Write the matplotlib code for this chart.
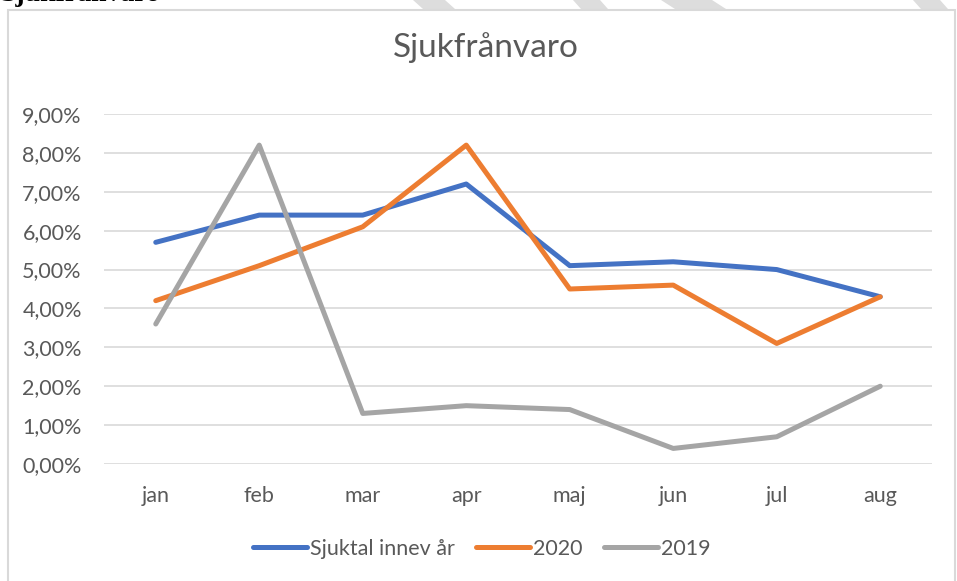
import matplotlib
matplotlib.use('Agg')
import matplotlib.pyplot as plt
import matplotlib.patches as mpatches
from matplotlib.ticker import FuncFormatter

plt.rcParams['font.family'] = ['Lato', 'DejaVu Sans']

# === Data ===
months = ['jan', 'feb', 'mar', 'apr', 'maj', 'jun', 'jul', 'aug']
sjuktal = [0.057, 0.064, 0.064, 0.072, 0.051, 0.052, 0.050, 0.043]
y2020 = [0.042, 0.051, 0.061, 0.082, 0.045, 0.046, 0.031, 0.043]
y2019 = [0.036, 0.082, 0.013, 0.015, 0.014, 0.004, 0.007, 0.020]
series_names = ['Sjuktal innev år', '2020', '2019']
yticks = [i / 100 for i in range(10)]

COLORS = ['#4472C4', '#ED7D31', '#A5A5A5']
TXT = '#595959'
FS = 15.5

fig = plt.figure(figsize=(9.57, 5.81), dpi=100)
W, H = 957, 581

# watermark stripes peeking above the chart box
for x0, x1, s in [(413, 445, 10), (573, 600, 8), (661, 712, 14), (913, 940, 8)]:
    poly = mpatches.Polygon([(x0 / W, 1), (x1 / W, 1), ((x1 + s) / W, 1 - 9 / H),
                             ((x0 + s) / W, 1 - 9 / H)],
                            closed=True, transform=fig.transFigure,
                            facecolor='#DDDDDD', edgecolor='none', zorder=0)
    fig.patches.append(poly)

# cut-off heading at the very top
fig.text(0.0, 1 - 1 / H, 'Sjukfrånvaro', fontsize=20, fontweight='bold',
         family=['Liberation Serif', 'DejaVu Serif'], color='black',
         va='baseline', ha='left', zorder=1)

# chart frame
frame = mpatches.Rectangle((8 / W, -0.01), (955 - 8) / W, 1 - 10 / H + 0.01,
                           transform=fig.transFigure, facecolor='white',
                           edgecolor='#D9D9D9', linewidth=1.5, zorder=2)
fig.patches.append(frame)

ax = fig.add_axes([104 / W, 1 - 464 / H, (932 - 104) / W, (464 - 114) / H])
ax.set_zorder(3)
ax.patch.set_alpha(0)

x = range(len(months))
for vals, name, c in zip([sjuktal, y2020, y2019], series_names, COLORS):
    ax.plot(x, vals, color=c, linewidth=3.6, solid_capstyle='round',
            solid_joinstyle='round', label=name)

ax.set_xlim(-0.5, len(months) - 0.5)
ax.set_ylim(0, 0.09)
ax.set_yticks(yticks)
ax.yaxis.set_major_formatter(FuncFormatter(lambda v, p: f'{v * 100:.2f}%'.replace('.', ',')))
ax.set_xticks(list(x))
ax.set_xticklabels(months)
ax.grid(axis='y', color='#D9D9D9', linewidth=1.2)
ax.set_axisbelow(True)
for sp in ax.spines.values():
    sp.set_visible(False)
ax.tick_params(axis='both', length=0, labelsize=FS, colors=TXT)
ax.tick_params(axis='x', pad=16)
ax.tick_params(axis='y', pad=16)

fig.text(486 / W, 1 - 48 / H, 'Sjukfrånvaro', fontsize=24, color=TXT,
         ha='center', va='center', zorder=4)

leg = ax.legend(loc='center', bbox_to_anchor=(482 / W, 1 - 549 / H),
                bbox_transform=fig.transFigure, ncol=3, frameon=False,
                fontsize=FS, handlelength=2.5, handletextpad=0.15,
                columnspacing=1.0)
for t in leg.get_texts():
    t.set_color(TXT)

plt.savefig('out.png', dpi=100)
